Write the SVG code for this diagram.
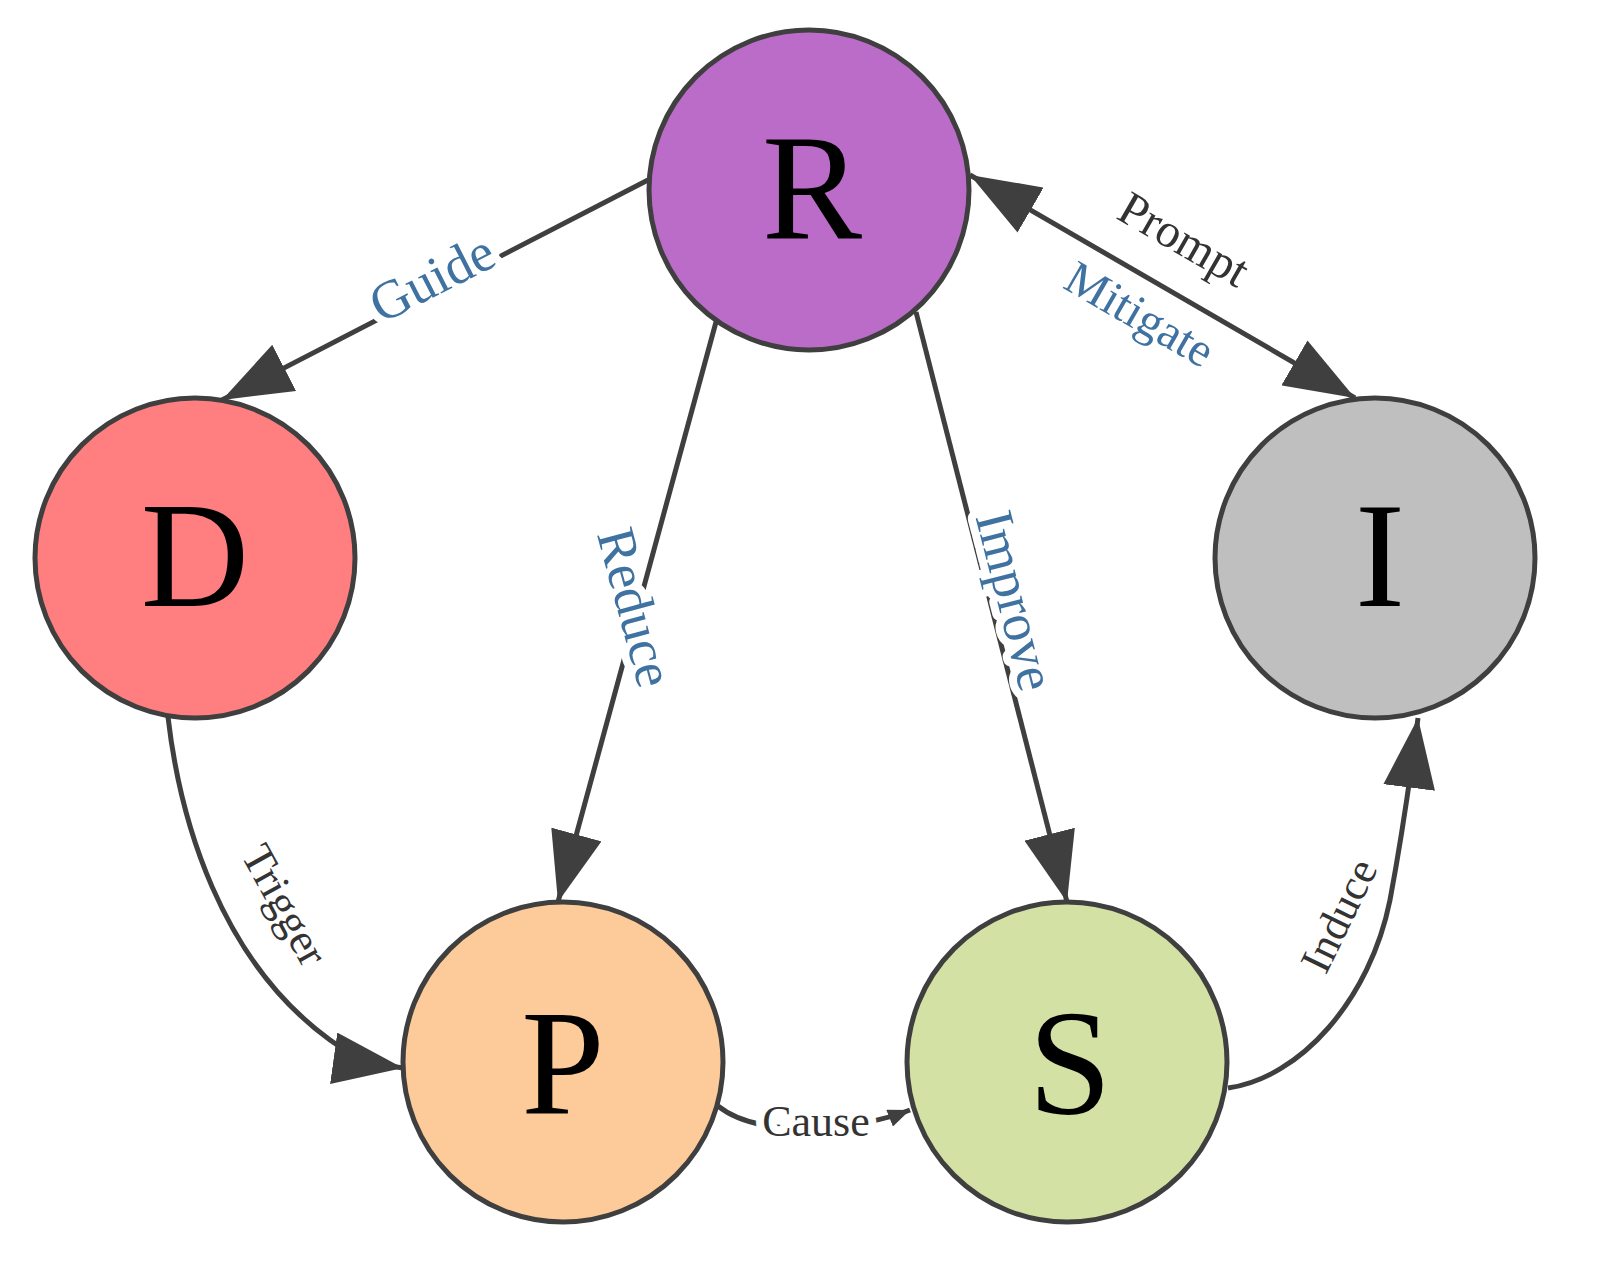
<svg xmlns="http://www.w3.org/2000/svg" width="1616" height="1288" viewBox="0 0 1616 1288">
<style>
.n{stroke:#3f3f3f;stroke-width:5}
.nl{font-family:"Liberation Serif",serif;font-size:150px;text-anchor:middle;fill:#000}
.e{fill:none;stroke:#3f3f3f;stroke-width:5}
.lb{font-family:"Liberation Serif",serif;font-size:54px;text-anchor:middle;stroke:#fff;stroke-width:16;paint-order:stroke;stroke-linejoin:round}
.bl{fill:#3f72a0}.dk{fill:#333}
</style>
<defs>
<marker id="a" markerUnits="userSpaceOnUse" markerWidth="72" markerHeight="52" refX="70" refY="26" orient="auto-start-reverse"><path d="M0,0 L70,26 L0,52 z" fill="#3f3f3f"/></marker>
<marker id="s" markerUnits="userSpaceOnUse" markerWidth="24" markerHeight="18" refX="22" refY="9" orient="auto"><path d="M0,0 L22,9 L0,18 z" fill="#3f3f3f"/></marker>
</defs>
<g id="edges">
<path class="e" d="M648,180 L222,400" marker-end="url(#a)"/>
<path class="e" d="M716,322 L558,902" marker-end="url(#a)"/>
<path class="e" d="M916,312 L1067,902" marker-end="url(#a)"/>
<path class="e" d="M970,175 L1355,398" marker-start="url(#a)" marker-end="url(#a)"/>
<path class="e" d="M168,717 C180,820 220,960 330,1040 Q360,1062 403,1068" marker-end="url(#a)"/>
<path class="e" d="M1228,1088 C1300,1078 1370,1000 1390,900 Q1405,820 1418,718" marker-end="url(#a)"/>
<path class="e" d="M718,1106 C760,1140 860,1130 910,1110" marker-end="url(#s)"/>
<text class="lb bl" transform="translate(440,294) rotate(-27)">Guide</text>
<text class="lb bl" transform="translate(618,612) rotate(74.8)">Reduce</text>
<text class="lb bl" transform="translate(998,605) rotate(75.6)">Improve</text>
<text class="lb dk" style="font-size:48px" transform="translate(1176,253) rotate(30)">Prompt</text>
<text class="lb bl" style="font-size:48px" transform="translate(1132,328) rotate(30)">Mitigate</text>
<text class="lb dk" style="font-size:44px" transform="translate(272,912) rotate(61)">Trigger</text>
<text class="lb dk" style="font-size:44px" transform="translate(1352,922) rotate(-64)">Induce</text>
<text class="lb dk" style="font-size:44px" x="816" y="1136">Cause</text>
</g>
<g id="R"><circle class="n" cx="809" cy="190" r="160" fill="#bb6bc8"/><text class="nl" x="812" y="238">R</text></g>
<g id="D"><circle class="n" cx="195" cy="558" r="160" fill="#ff7f80"/><text class="nl" x="195" y="606">D</text></g>
<g id="I"><circle class="n" cx="1375" cy="558" r="160" fill="#bfbfbf"/><text class="nl" x="1380" y="606">I</text></g>
<g id="P"><circle class="n" cx="563" cy="1062" r="160" fill="#fdcb9a"/><text class="nl" x="563" y="1114">P</text></g>
<g id="S"><circle class="n" cx="1067" cy="1062" r="160" fill="#d3e1a5"/><text class="nl" x="1070" y="1114">S</text></g>
</svg>
